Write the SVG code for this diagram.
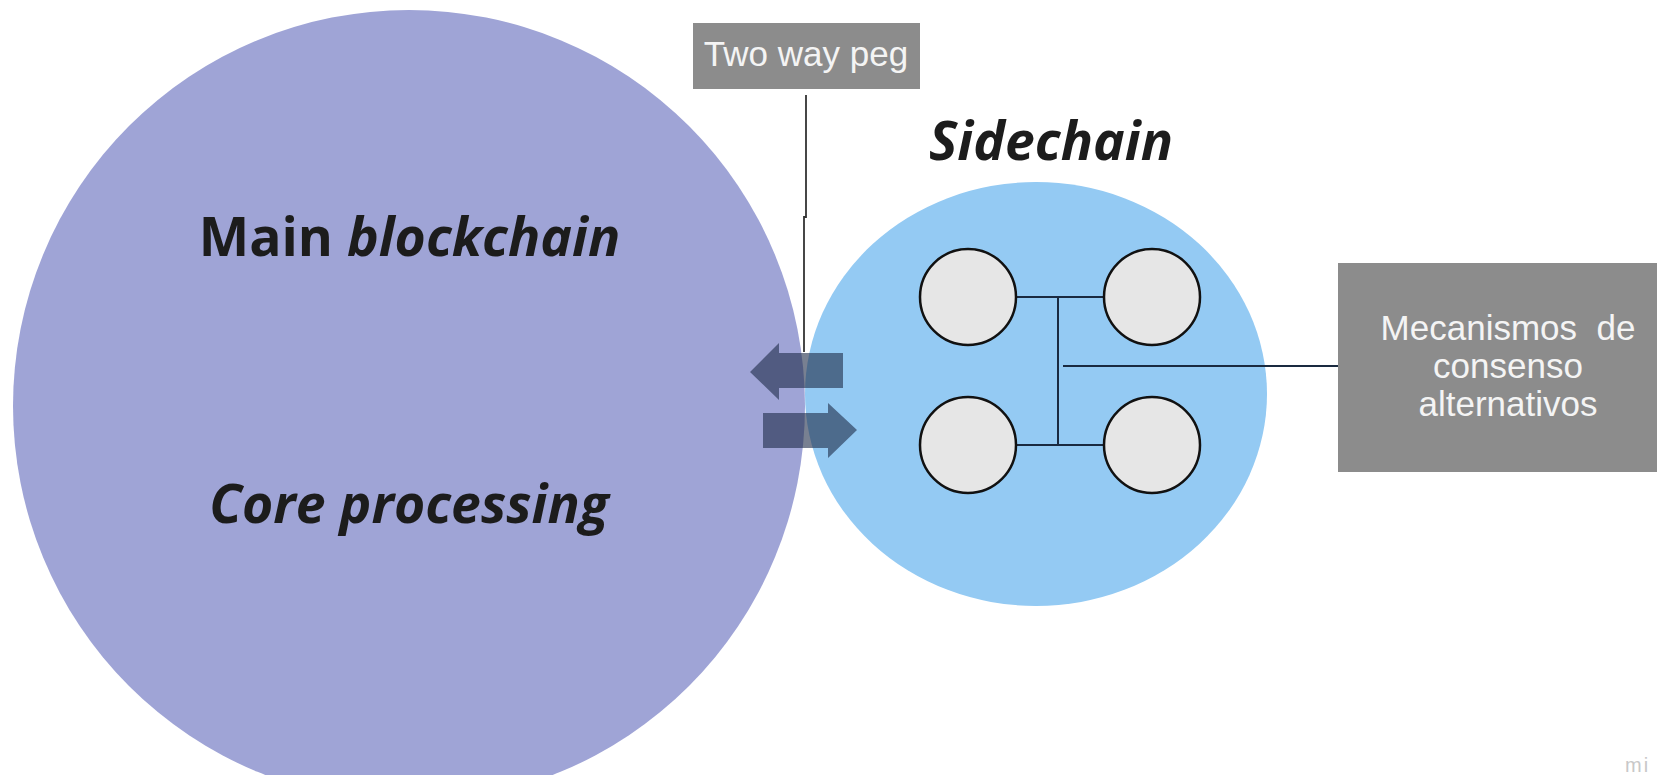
<svg xmlns="http://www.w3.org/2000/svg" width="1657" height="775" viewBox="0 0 1657 775">
<style>
.title{font-family:"Open Sans","Noto Sans",sans-serif;font-weight:bold;font-size:53.5px;fill:#1c1c1c}
.lbl{font-family:"Liberation Sans",Arial,sans-serif;font-size:35px;fill:#f4f4f4}
.box{fill:#8c8c8c}
.node{fill:#e6e6e6;stroke:#111;stroke-width:2.5}
.conn{stroke:#1a2a40;stroke-width:2;fill:none}
.arrow{fill:#1e2c48;fill-opacity:0.6}
</style>
<rect width="1657" height="775" fill="#fff"/>
<g id="main-chain">
<circle cx="409" cy="406" r="396" fill="#9fa4d6"/>
<text class="title" x="409.5" y="256" text-anchor="middle">Main <tspan font-style="italic">blockchain</tspan></text>
<text class="title" x="409" y="523" text-anchor="middle" font-style="italic">Core processing</text>
</g>
<g id="sidechain">
<ellipse cx="1036" cy="394" rx="231" ry="212" fill="#94caf3"/>
<text class="title" x="1051" y="160" text-anchor="middle" font-style="italic">Sidechain</text>
</g>
<g id="peg-label">
<rect class="box" x="693" y="23" width="227" height="66"/>
<text class="lbl" x="806" y="66" text-anchor="middle">Two way peg</text>
</g>
<g id="consensus-label">
<rect class="box" x="1338" y="263" width="330" height="209"/>
<text class="lbl" x="1508" y="340" text-anchor="middle" xml:space="preserve">Mecanismos  de</text>
<text class="lbl" x="1508" y="378" text-anchor="middle">consenso</text>
<text class="lbl" x="1508" y="416" text-anchor="middle">alternativos</text>
</g>
<g id="connectors">
<polyline points="806,95 806,217 804,217 804,352" stroke="#333" stroke-width="1.8" fill="none"/>
<polyline class="conn" points="1017,297 1103,297"/>
<polyline class="conn" points="1017,445 1103,445"/>
<polyline class="conn" points="1058,297 1058,445"/>
<polyline class="conn" points="1063,366 1338,366"/>
<polygon class="arrow" points="750,372 779,343 779,353 843,353 843,388 779,388 779,400"/>
<polygon class="arrow" points="763,413 828,413 828,403 857,430 828,458 828,448 763,448"/>
</g>
<g id="node-1"><circle class="node" cx="968" cy="297" r="48"/></g>
<g id="node-2"><circle class="node" cx="1152" cy="297" r="48"/></g>
<g id="node-3"><circle class="node" cx="968" cy="445" r="48"/></g>
<g id="node-4"><circle class="node" cx="1152" cy="445" r="48"/></g>
<text x="1625" y="772" font-family="Liberation Sans,sans-serif" font-size="20" fill="#c8c8c8" letter-spacing="2">mi</text>
</svg>
